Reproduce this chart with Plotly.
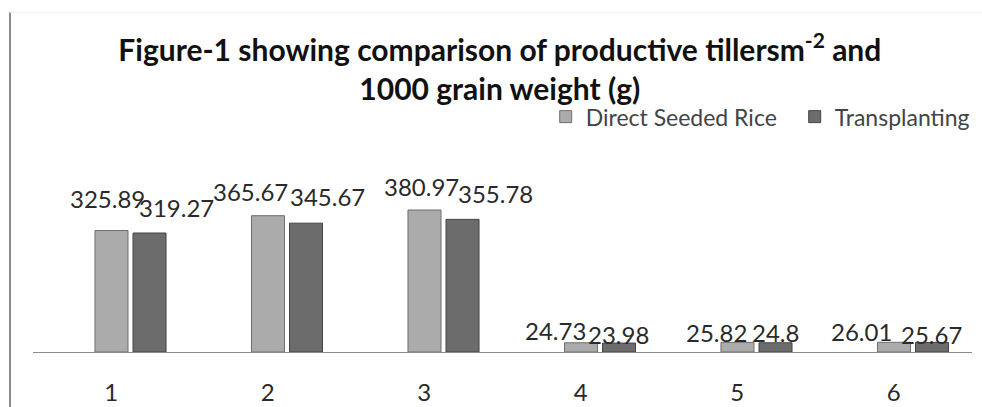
import plotly.graph_objects as go

# ---- data ----
categories = [1, 2, 3, 4, 5, 6]
tick_labels = ["1", "2", "3", "4", "5", "6"]
dsr_values = [325.89, 365.67, 380.97, 24.73, 25.82, 26.01]
tp_values = [319.27, 345.67, 355.78, 23.98, 24.8, 25.67]
dsr_name = "Direct Seeded Rice"
tp_name = "Transplanting"
title_text = "Figure-1 showing comparison of productive tillersm<sup>-2</sup> and<br>1000 grain weight (g)"

# ---- label styling offsets (pixels) ----
dsr_dx = [-4, -17, -3, -25, -21, -32]
tp_dx = [65, 60, 71, 38, 38, 38]
dsr_dy = [32, 24, 24, 12, 10, 11]
tp_dy = [26, 27, 26, 9, 10, 8]

FONT = "Lato"
fig = go.Figure()
fig.add_trace(go.Bar(
    x=categories, y=dsr_values, name=dsr_name,
    offset=-0.104, width=0.211,
    marker=dict(color="#ababab", line=dict(color="#6f6f6f", width=1)),
))
fig.add_trace(go.Bar(
    x=categories, y=tp_values, name=tp_name,
    offset=0.139, width=0.211,
    marker=dict(color="#6c6c6c", line=dict(color="#444444", width=1)),
))

annotations = []
for c, v, dx, dy in zip(categories, dsr_values, dsr_dx, dsr_dy):
    annotations.append(dict(x=c, y=v, xref="x", yref="y", text=f"{v:g}", showarrow=False,
                            xshift=dx, yshift=dy, yanchor="middle", xanchor="center",
                            font=dict(family=FONT, size=24, color="#2a2a2a")))
for c, v, dx, dy in zip(categories, tp_values, tp_dx, tp_dy):
    annotations.append(dict(x=c, y=v, xref="x", yref="y", text=f"{v:g}", showarrow=False,
                            xshift=dx, yshift=dy, yanchor="middle", xanchor="center",
                            font=dict(family=FONT, size=24, color="#2a2a2a")))

shapes = [
    dict(type="line", xref="paper", yref="paper", x0=-0.0245, x1=-0.0245, y0=-0.26, y1=1.53,
         line=dict(color="#8a8a8a", width=2)),
    dict(type="line", xref="paper", yref="paper", x0=-0.0245, x1=1.05, y0=1.53, y1=1.53,
         line=dict(color="#eeeeee", width=1)),
]

fig.update_layout(
    width=982, height=407, autosize=False,
    margin=dict(l=33, r=10, t=130, b=55, autoexpand=False),
    paper_bgcolor="white", plot_bgcolor="white",
    barmode="group",
    showlegend=True,
    legend=dict(orientation="h", x=0.546, xanchor="left", y=1.06, yanchor="middle",
                font=dict(family=FONT, size=23, color="#444444"),
                bgcolor="rgba(0,0,0,0)", itemwidth=30,
                entrywidth=204, entrywidthmode="pixels"),
    title=dict(text=title_text, x=0.509, xanchor="center", y=0.85, yref="container",
               yanchor="top",
               font=dict(family=FONT, size=30, color="#111111", weight="bold")),
    xaxis=dict(range=[0.5, 6.5], tickmode="array", tickvals=categories, ticktext=tick_labels,
               showline=True, linecolor="#8a8a8a", linewidth=1, showgrid=False, zeroline=False,
               ticks="outside", ticklen=19, tickcolor="rgba(0,0,0,0)", automargin=False,
               tickfont=dict(family=FONT, size=24, color="#2a2a2a")),
    yaxis=dict(range=[0, 595.6], visible=False, automargin=False),
    annotations=annotations,
    shapes=shapes,
)

fig.write_html("out.html",
               config={"responsive": False, "displayModeBar": False},
               post_script="document.body.style.margin='0';document.body.style.padding='0';"
                           "document.body.style.overflow='hidden';window.scrollTo(0,0);")
